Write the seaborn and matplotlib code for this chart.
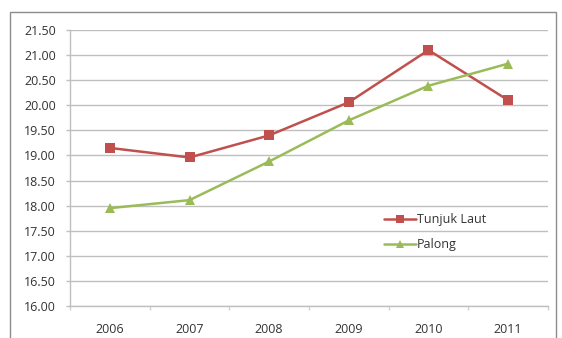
import matplotlib
matplotlib.use("Agg")
import matplotlib.pyplot as plt
import seaborn as sns
import pandas as pd
from matplotlib.patches import Rectangle
from matplotlib.ticker import FixedLocator

years = ["2006", "2007", "2008", "2009", "2010", "2011"]
tunjuk_laut = [19.15, 18.96, 19.40, 20.06, 21.10, 20.10]
palong = [17.95, 18.11, 18.88, 19.70, 20.39, 20.83]
series_names = ["Tunjuk Laut", "Palong"]
y_ticks = [16.0, 16.5, 17.0, 17.5, 18.0, 18.5, 19.0, 19.5, 20.0, 20.5, 21.0, 21.5]

df = pd.DataFrame({
    "year": list(range(len(years))) * 2,
    "value": tunjuk_laut + palong,
    "series": [series_names[0]] * len(years) + [series_names[1]] * len(years),
})

sns.set_theme(style="white")
plt.rcParams["font.family"] = ["Open Sans", "DejaVu Sans"]

W, H = 562, 338
fig = plt.figure(figsize=(W / 100, H / 100), dpi=100)

# chart frame
fig.patches.append(Rectangle((10 / W, -0.05), 546 / W, 1.05 - 12 / H,
                             transform=fig.transFigure, fill=False,
                             edgecolor="#8c8c8c", linewidth=1.0))

ax = fig.add_axes([70 / W, 1 - 306 / H, 478 / W, 276 / H])

sns.lineplot(data=df, x="year", y="value", hue="series", style="series",
             palette={"Tunjuk Laut": "#C0504D", "Palong": "#9BBB59"},
             markers={"Tunjuk Laut": "s", "Palong": "^"},
             dashes=False, markersize=7, markeredgewidth=0,
             linewidth=1.8, ax=ax, legend=False)

ax.set_xlim(-0.5, len(years) - 0.5)
ax.set_ylim(16.0, 21.5)
ax.set_yticks(y_ticks)
ax.set_yticklabels([f"{v:.2f}" for v in y_ticks])
ax.set_xticks(range(len(years)))
ax.set_xticklabels(years)
ax.xaxis.set_minor_locator(FixedLocator([i - 0.5 for i in range(len(years) + 1)]))
ax.set_xlabel("")
ax.set_ylabel("")

ax.grid(axis="y", color="#bfbfbf", linewidth=1.0)
ax.set_axisbelow(True)
for side in ["top", "right"]:
    ax.spines[side].set_visible(False)
for side in ["left", "bottom"]:
    ax.spines[side].set_color("#bfbfbf")
    ax.spines[side].set_linewidth(1.0)

ax.tick_params(axis="y", which="major", left=True, length=3, width=1,
               color="#bfbfbf", labelsize=9, labelcolor="#333333", pad=7)
ax.tick_params(axis="x", which="major", bottom=False, labelsize=9,
               labelcolor="#333333", pad=6)
ax.tick_params(axis="x", which="minor", bottom=True, length=3, width=1,
               color="#d0d0d0")

handles = [
    plt.Line2D([], [], color="#C0504D", marker="s", markersize=6,
               markeredgewidth=0, linewidth=1.8),
    plt.Line2D([], [], color="#9BBB59", marker="^", markersize=6,
               markeredgewidth=0, linewidth=1.8),
]
ax.legend(handles, series_names, loc="upper left",
          bbox_to_anchor=((378 - 70) / 478, (306 - 207) / 276),
          frameon=False, fontsize=9, handlelength=2.5, handletextpad=0.1,
          labelspacing=0.95, borderpad=0, labelcolor="#333333")

fig.savefig("out.png", dpi=100)
